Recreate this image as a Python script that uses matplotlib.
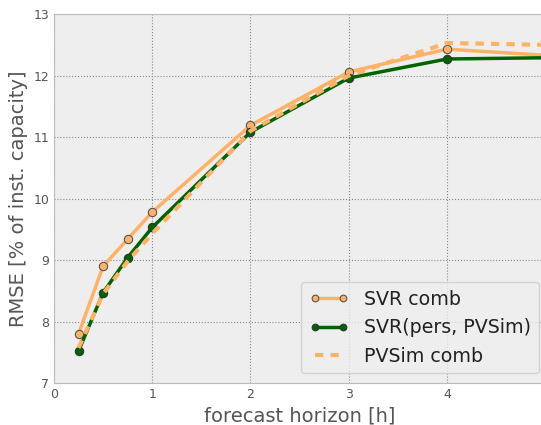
import matplotlib
matplotlib.use('Agg')
import matplotlib.pyplot as plt

# forecast horizons [h]
horizon = [0.25, 0.5, 0.75, 1, 2, 3, 4, 5]
# RMSE values [% of installed capacity]
svr_comb = [7.80, 8.90, 9.34, 9.78, 11.19, 12.06, 12.43, 12.33]
svr_pers_pvsim = [7.52, 8.47, 9.04, 9.53, 11.08, 11.96, 12.27, 12.29]
pvsim_comb = [7.57, 8.45, 8.98, 9.43, 11.10, 12.00, 12.53, 12.50]

orange = '#FFB266'
green = '#006400'
grey_txt = '#555555'

fig = plt.figure(figsize=(5.41, 4.25), dpi=100)
ax = fig.add_axes([0.0998, 0.0988, 0.908, 0.868])
ax.set_facecolor('#EEEEEE')

ax.plot(horizon, svr_comb, '-o', color=orange, lw=2.5, ms=6,
        mec='#555555', mew=0.8, label='SVR comb')
ax.plot(horizon, svr_pers_pvsim, '-o', color=green, lw=2.5, ms=6,
        mec='#333333', mew=0.8, label='SVR(pers, PVSim)')
ax.plot(horizon, pvsim_comb, '--', color=orange, lw=3, dashes=(2, 1.7),
        label='PVSim comb')

ax.set_xlim(0, 5)
ax.set_ylim(7, 13)
ax.set_xticks([0, 1, 2, 3, 4])
ax.grid(True, linestyle=':', color='#888888', lw=0.8)
ax.set_axisbelow(True)
for s in ax.spines.values():
    s.set_color('#BBBBBB')
ax.tick_params(colors=grey_txt, labelsize=9, length=0)

ax.set_xlabel('forecast horizon [h]', fontsize=14, color=grey_txt)
ax.set_ylabel('RMSE [% of inst. capacity]', fontsize=14, color=grey_txt)

leg = ax.legend(loc='lower right', fontsize=13.7, frameon=True, numpoints=2,
                handlelength=2.1, markerscale=0.8,
                facecolor='#EEEEEE', edgecolor='#CCCCCC',
                bbox_to_anchor=(1.006, 0.0))
for t in leg.get_texts():
    t.set_color('#222222')

fig.savefig('out.png', dpi=100)
